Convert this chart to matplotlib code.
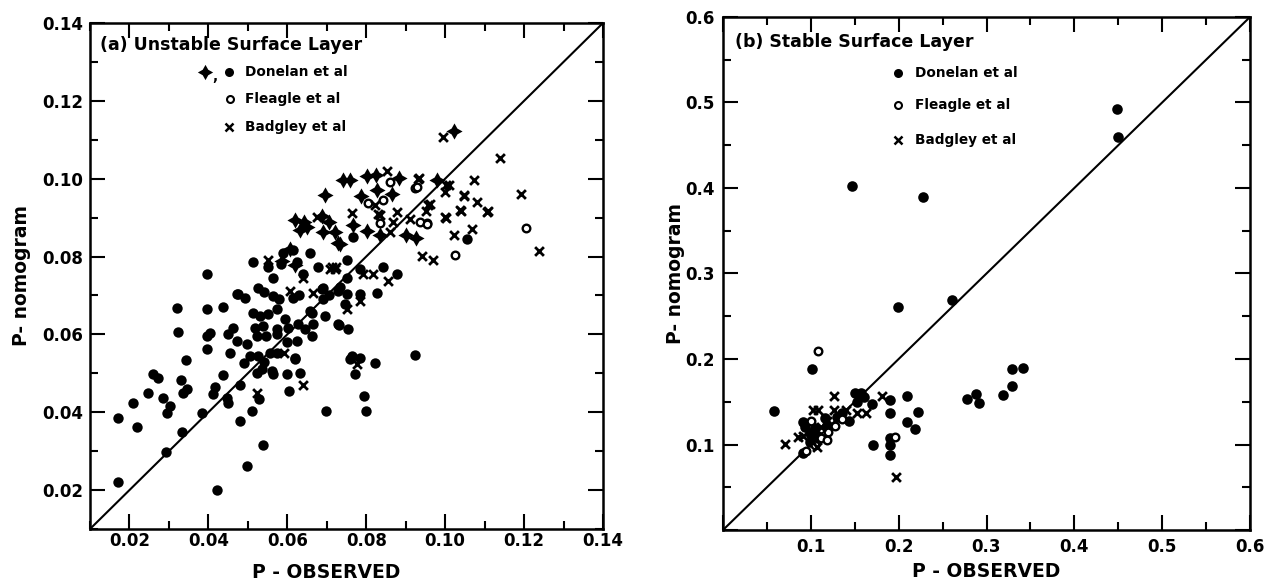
import matplotlib
matplotlib.use("Agg")
import matplotlib.pyplot as plt
from matplotlib.ticker import MultipleLocator, FuncFormatter
from matplotlib.path import Path

plt.rcParams['font.family'] = ['DejaVu Sans']
plt.rcParams['font.weight'] = 'bold'
plt.rcParams['axes.labelweight'] = 'bold'

# ---------------- Panel (a): unstable surface layer ----------------
a_title = "(a) Unstable Surface Layer"
a_lim = (0.01, 0.14)

a_don_star_x = [0.1022, 0.0740, 0.0760, 0.0801, 0.0825, 0.0883, 0.0980, 0.0695, 0.0787, 0.0827,
                0.0865, 0.0687, 0.0706, 0.0619, 0.0642, 0.0632, 0.0690, 0.0722, 0.0728, 0.0766,
                0.0801, 0.0834, 0.0902, 0.0925, 0.0606, 0.0586, 0.0619, 0.0733, 0.0649]
a_don_star_y = [0.1122, 0.0997, 0.0997, 0.1006, 0.1009, 0.1002, 0.0996, 0.0957, 0.0955, 0.0972,
                0.0960, 0.0905, 0.0890, 0.0894, 0.0888, 0.0869, 0.0864, 0.0862, 0.0836, 0.0882,
                0.0866, 0.0856, 0.0856, 0.0848, 0.0820, 0.0789, 0.0779, 0.0831, 0.0875]

a_don_dot_x = [0.1055, 0.0766, 0.0657, 0.0677, 0.0751, 0.0784, 0.0842, 0.0877, 0.0690, 0.0513,
               0.0551, 0.0585, 0.0589, 0.0614, 0.0624, 0.0396, 0.0563, 0.0475, 0.0525, 0.0639,
               0.0751, 0.0733, 0.0472, 0.0492, 0.0540, 0.0563, 0.0580, 0.0614, 0.0630, 0.0687,
               0.0690, 0.0705, 0.0728, 0.0751, 0.0784, 0.0827, 0.0746, 0.0320, 0.0396, 0.0437,
               0.0513, 0.0530, 0.0551, 0.0573, 0.0657, 0.0662, 0.0695, 0.0323, 0.0396, 0.0404,
               0.0462, 0.0449, 0.0472, 0.0497, 0.0518, 0.0538, 0.0523, 0.0545, 0.0573, 0.0573,
               0.0601, 0.0627, 0.0644, 0.0665, 0.0662, 0.0624, 0.0728, 0.0753, 0.0396, 0.0454,
               0.0505, 0.0525, 0.0556, 0.0573, 0.0619, 0.0763, 0.0784, 0.0822, 0.0923, 0.0171,
               0.0219, 0.0209, 0.0171, 0.0247, 0.0260, 0.0272, 0.0285, 0.0303, 0.0295, 0.0292,
               0.0330, 0.0346, 0.0335, 0.0333, 0.0343, 0.0384, 0.0411, 0.0416, 0.0437, 0.0447,
               0.0449, 0.0480, 0.0480, 0.0490, 0.0497, 0.0538, 0.0510, 0.0528, 0.0523, 0.0535,
               0.0540, 0.0563, 0.0560, 0.0599, 0.0632, 0.0604, 0.0697, 0.0758, 0.0771, 0.0794,
               0.0799, 0.0619, 0.0730, 0.0422, 0.0600, 0.0595]
a_don_dot_y = [0.0846, 0.0851, 0.0808, 0.0774, 0.0792, 0.0769, 0.0774, 0.0754, 0.0718, 0.0787,
               0.0774, 0.0780, 0.0808, 0.0818, 0.0787, 0.0754, 0.0744, 0.0703, 0.0718, 0.0754,
               0.0744, 0.0723, 0.0703, 0.0693, 0.0710, 0.0698, 0.0690, 0.0693, 0.0700, 0.0716,
               0.0690, 0.0700, 0.0711, 0.0703, 0.0703, 0.0706, 0.0677, 0.0667, 0.0664, 0.0670,
               0.0654, 0.0647, 0.0652, 0.0664, 0.0659, 0.0654, 0.0647, 0.0606, 0.0596, 0.0603,
               0.0616, 0.0601, 0.0583, 0.0575, 0.0616, 0.0621, 0.0596, 0.0596, 0.0613, 0.0600,
               0.0616, 0.0626, 0.0613, 0.0626, 0.0596, 0.0583, 0.0626, 0.0613, 0.0562, 0.0552,
               0.0544, 0.0544, 0.0552, 0.0552, 0.0539, 0.0544, 0.0540, 0.0527, 0.0547, 0.0384,
               0.0361, 0.0424, 0.0220, 0.0450, 0.0498, 0.0488, 0.0437, 0.0417, 0.0399, 0.0297,
               0.0483, 0.0460, 0.0450, 0.0348, 0.0534, 0.0399, 0.0447, 0.0465, 0.0496, 0.0437,
               0.0424, 0.0470, 0.0378, 0.0527, 0.0261, 0.0317, 0.0404, 0.0435, 0.0501, 0.0510,
               0.0530, 0.0498, 0.0505, 0.0498, 0.0501, 0.0455, 0.0404, 0.0537, 0.0498, 0.0442,
               0.0404, 0.0537, 0.0624, 0.0200, 0.0580, 0.0640]

a_fle_x = [0.1204, 0.1026, 0.0923, 0.0953, 0.0859, 0.0804, 0.0842, 0.0834, 0.0928, 0.0935, 0.0953]
a_fle_y = [0.0874, 0.0805, 0.0976, 0.0887, 0.0991, 0.0938, 0.0945, 0.0887, 0.0979, 0.0889, 0.0884]

a_bad_x = [0.0994, 0.1138, 0.1072, 0.1191, 0.1047, 0.1080, 0.1108, 0.1039, 0.1001, 0.1067,
           0.1022, 0.1239, 0.0941, 0.0968, 0.1001, 0.0933, 0.0852, 0.0961, 0.0951, 0.0822,
           0.0763, 0.0834, 0.0877, 0.0867, 0.0910, 0.0708, 0.0720, 0.0791, 0.0816, 0.0855,
           0.0551, 0.0675, 0.0639, 0.0713, 0.0723, 0.0606, 0.0665, 0.0784, 0.0751, 0.0591,
           0.0523, 0.0639, 0.0776, 0.0829, 0.0859, 0.0999, 0.1049, 0.1011, 0.1105, 0.0956,
           0.0999, 0.1037, 0.0930]
a_bad_y = [0.1106, 0.1053, 0.0997, 0.0961, 0.0956, 0.0940, 0.0917, 0.0917, 0.0899, 0.0871,
           0.0856, 0.0815, 0.0802, 0.0792, 0.0984, 0.1002, 0.1020, 0.0935, 0.0917, 0.0933,
           0.0912, 0.0907, 0.0915, 0.0889, 0.0897, 0.0769, 0.0769, 0.0754, 0.0754, 0.0736,
           0.0792, 0.0902, 0.0744, 0.0774, 0.0774, 0.0711, 0.0706, 0.0685, 0.0664, 0.0552,
           0.0450, 0.0470, 0.0524, 0.0910, 0.0864, 0.0966, 0.0958, 0.0984, 0.0915, 0.0933,
           0.0902, 0.0920, 0.1000]

# ---------------- Panel (b): stable surface layer ----------------
b_title = "(b) Stable Surface Layer"
b_lim = (0.0, 0.6)

b_don_x = [0.449, 0.450, 0.147, 0.228, 0.199, 0.261, 0.101, 0.058, 0.190, 0.209,
           0.222, 0.190, 0.209, 0.219, 0.171, 0.190, 0.190, 0.190, 0.278, 0.288,
           0.292, 0.319, 0.329, 0.329, 0.341, 0.170, 0.144, 0.150, 0.157, 0.153,
           0.160, 0.091, 0.093, 0.099, 0.105, 0.099, 0.091, 0.118, 0.130, 0.136,
           0.116, 0.108]
b_don_y = [0.492, 0.460, 0.402, 0.389, 0.261, 0.269, 0.188, 0.139, 0.152, 0.157,
           0.138, 0.137, 0.126, 0.118, 0.099, 0.099, 0.088, 0.108, 0.153, 0.159,
           0.148, 0.158, 0.168, 0.188, 0.189, 0.147, 0.127, 0.160, 0.160, 0.150,
           0.155, 0.126, 0.120, 0.113, 0.119, 0.103, 0.090, 0.123, 0.132, 0.137,
           0.131, 0.110]

b_fle_x = [0.108, 0.196, 0.095, 0.105, 0.112, 0.120, 0.128, 0.100, 0.118, 0.135]
b_fle_y = [0.209, 0.109, 0.092, 0.100, 0.108, 0.115, 0.122, 0.128, 0.105, 0.130]

b_bad_x = [0.071, 0.126, 0.181, 0.197, 0.085, 0.103, 0.108, 0.126, 0.140, 0.163,
           0.152, 0.107, 0.091, 0.112, 0.118, 0.100]
b_bad_y = [0.101, 0.157, 0.157, 0.062, 0.109, 0.140, 0.140, 0.140, 0.140, 0.137,
           0.137, 0.097, 0.110, 0.120, 0.128, 0.105]

legend_names = ["Donelan et al", "Fleagle et al", "Badgley et al"]
xlabel = "P - OBSERVED"
ylabel = "P- nomogram"

# four-pointed star with slightly concave sides (Donelan unstable symbol)
_q = 0.36
STAR = Path([(0, 1), (_q, _q), (1, 0), (_q, -_q), (0, -1), (-_q, -_q), (-1, 0), (-_q, _q), (0, 1)],
            [Path.MOVETO] + [Path.LINETO] * 7 + [Path.CLOSEPOLY])

W, H = 1268, 584
fig = plt.figure(figsize=(W / 100, H / 100), dpi=100)
axA = fig.add_axes([90 / W, (H - 529) / H, 513 / W, 506 / H])
axB = fig.add_axes([723 / W, (H - 530) / H, 527 / W, 513 / H])


def style(ax, lim, major, minor, ndec, xpad, ypad):
    ax.set_xlim(*lim)
    ax.set_ylim(*lim)
    ax.xaxis.set_major_locator(MultipleLocator(major))
    ax.yaxis.set_major_locator(MultipleLocator(major))
    ax.xaxis.set_minor_locator(MultipleLocator(minor))
    ax.yaxis.set_minor_locator(MultipleLocator(minor))
    fmt = FuncFormatter(lambda v, p: '' if abs(v) < 1e-9 else f'{v:.{ndec}f}')
    ax.xaxis.set_major_formatter(fmt)
    ax.yaxis.set_major_formatter(fmt)
    ax.tick_params(which='both', direction='in', top=True, right=True, width=1.5,
                   labelsize=12, colors='black')
    ax.tick_params(which='major', length=11)
    ax.tick_params(which='minor', length=6)
    ax.tick_params(axis='x', pad=xpad)
    ax.tick_params(axis='y', pad=ypad)
    for s in ax.spines.values():
        s.set_linewidth(1.8)
    ax.plot(lim, lim, color='black', lw=1.5, zorder=1)
    ax.set_xlabel(xlabel, fontsize=13.5)
    ax.set_ylabel(ylabel, fontsize=13.5)


style(axA, a_lim, 0.02, 0.01, 2, 2, 5)
style(axB, b_lim, 0.1, 0.05, 1, 6, 6)

axA.xaxis.set_label_coords(0.46, -0.068)
axA.yaxis.set_label_coords(-0.115, 0.5)
axB.xaxis.set_label_coords(0.50, -0.062)
axB.yaxis.set_label_coords(-0.072, 0.5)

# ---- panel a marks
axA.scatter(a_don_dot_x, a_don_dot_y, s=56, c='black', marker='o', linewidths=0, zorder=3)
axA.scatter(a_don_star_x, a_don_star_y, s=135, c='black', marker=STAR, linewidths=0, zorder=3)
axA.scatter(a_fle_x, a_fle_y, s=30, facecolors='white', edgecolors='black', marker='o', linewidths=1.7, zorder=4)
axA.scatter(a_bad_x, a_bad_y, s=40, c='black', marker='x', linewidths=2.0, zorder=4)

# ---- panel b marks
axB.scatter(b_don_x, b_don_y, s=58, c='black', marker='o', linewidths=0, zorder=3)
axB.scatter(b_fle_x, b_fle_y, s=30, facecolors='white', edgecolors='black', marker='o', linewidths=1.7, zorder=4)
axB.scatter(b_bad_x, b_bad_y, s=40, c='black', marker='x', linewidths=2.0, zorder=4)

# ---- titles and key, panel a
T = dict(fontsize=12.5, va='center', ha='left')
L = dict(fontsize=9.8, va='center', ha='left')
axA.text(0.0195, 0.957, a_title, transform=axA.transAxes, **T)
axA.plot([0.224], [0.903], marker=STAR, ms=11, color='black', mew=0, transform=axA.transAxes)
axA.text(0.238, 0.893, ',', transform=axA.transAxes, **L)
axA.plot([0.270], [0.903], marker='o', ms=6.5, color='black', mew=0, transform=axA.transAxes)
axA.plot([0.273], [0.850], marker='o', ms=5, mfc='white', mec='black', mew=1.5, transform=axA.transAxes)
axA.plot([0.271], [0.794], marker='x', ms=6, color='black', mew=1.8, transform=axA.transAxes)
for yy, name in zip([0.903, 0.850, 0.794], legend_names):
    axA.text(0.302, yy, name, transform=axA.transAxes, **L)

# ---- titles and key, panel b
axB.text(0.023, 0.951, b_title, transform=axB.transAxes, **T)
axB.plot([0.332], [0.891], marker='o', ms=6.5, color='black', mew=0, transform=axB.transAxes)
axB.plot([0.332], [0.828], marker='o', ms=5, mfc='white', mec='black', mew=1.5, transform=axB.transAxes)
axB.plot([0.332], [0.760], marker='x', ms=6, color='black', mew=1.8, transform=axB.transAxes)
for yy, name in zip([0.891, 0.828, 0.760], legend_names):
    axB.text(0.364, yy, name, transform=axB.transAxes, **L)

fig.savefig("out.png", dpi=100, facecolor='white')
